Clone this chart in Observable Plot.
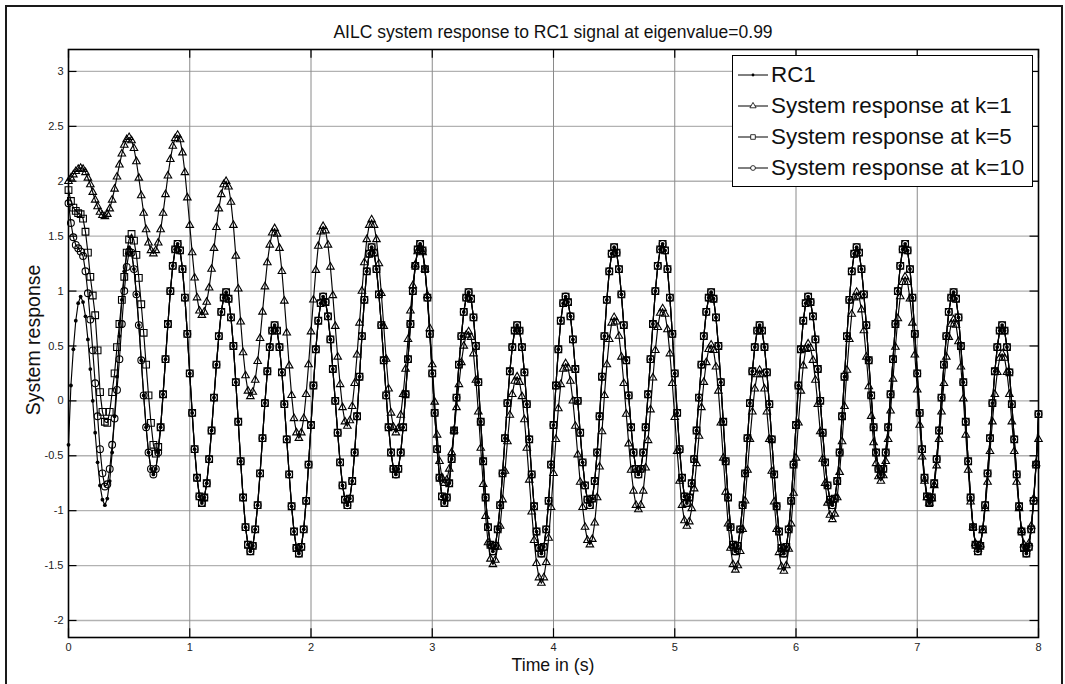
<!DOCTYPE html>
<html><head><meta charset="utf-8">
<script src="https://cdn.jsdelivr.net/npm/d3@7"></script>
<script src="https://cdn.jsdelivr.net/npm/@observablehq/plot@0.6"></script>
<style>
html,body{margin:0;padding:0;background:#fff;}
#fig{position:relative;width:1065px;height:684px;overflow:hidden;background:#fff;font-family:"Liberation Sans",Arial,Helvetica,sans-serif;color:#111;}
#frame{position:absolute;left:5px;top:5px;width:1058px;height:720px;border:2px solid #1a1a1a;box-sizing:border-box;}
#chart{position:absolute;left:0;top:0;}
#title{position:absolute;left:68px;width:970px;top:22px;text-align:center;font-size:17.5px;line-height:20px;white-space:nowrap;}
#xlabel{position:absolute;left:68px;width:970px;top:655px;text-align:center;font-size:17.7px;line-height:20px;}
#ylabel{position:absolute;left:33px;top:340px;transform:translate(-50%,-50%) rotate(-90deg);white-space:nowrap;font-size:19.5px;line-height:22px;}
#legend{position:absolute;left:732px;top:55px;width:301px;height:132px;border:1px solid #000;background:#fff;box-sizing:border-box;}
.row{position:absolute;left:4px;height:30px;display:flex;align-items:center;font-size:22.4px;white-space:nowrap;}
.row svg{margin-right:2px;}
</style>
</head><body>
<div id="fig">
  <div id="chart"></div>
  <div id="frame"></div>
  <div id="title"></div>
  <div id="xlabel"></div>
  <div id="ylabel"></div>
  <div id="legend"></div>
</div>
<script>
// ---- Data ----
const titleText = "AILC system response to RC1 signal at eigenvalue=0.99";
const xLabel = "Time in (s)";
const yLabel = "System response";
const seriesNames = ["RC1", "System response at k=1", "System response at k=5", "System response at k=10"];
const dt = 0.02;              // sampling step (s) of the arrays below
const xTicks = [0,1,2,3,4,5,6,7,8];
const yTicks = [-2,-1.5,-1,-0.5,0,0.5,1,1.5,2,2.5,3];
const xDomain = [0, 8];
const yDomain = [-2.155, 3.2];

// RC1 reference signal, t = 0 .. 8 s
const rc1 = [
-0.40,0.14,0.47,0.73,0.89,0.95,0.90,0.77,0.56,0.29,
0,-0.29,-0.56,-0.77,-0.90,-0.95,-0.89,-0.73,-0.47,-0.14,
0.22,0.59,0.92,1.18,1.34,1.40,1.35,1.20,0.97,0.69,
0.37,0.05,-0.24,-0.47,-0.62,-0.67,-0.62,-0.47,-0.24,0.06,
0.38,0.70,1.00,1.23,1.38,1.43,1.37,1.20,0.94,0.61,
0.25,-0.11,-0.44,-0.70,-0.87,-0.93,-0.88,-0.75,-0.53,-0.27,
0.03,0.33,0.59,0.81,0.94,0.99,0.93,0.76,0.50,0.17,
-0.19,-0.55,-0.88,-1.15,-1.31,-1.37,-1.32,-1.17,-0.95,-0.66,
-0.34,-0.02,0.27,0.49,0.64,0.69,0.64,0.49,0.26,-0.03,
-0.35,-0.67,-0.96,-1.19,-1.34,-1.39,-1.33,-1.17,-0.91,-0.58,
-0.22,0.14,0.47,0.73,0.89,0.95,0.90,0.77,0.56,0.29,
0,-0.29,-0.56,-0.77,-0.90,-0.95,-0.89,-0.73,-0.47,-0.14,
0.22,0.59,0.92,1.18,1.34,1.40,1.35,1.20,0.97,0.69,
0.37,0.05,-0.24,-0.47,-0.62,-0.67,-0.62,-0.47,-0.24,0.06,
0.38,0.70,1.00,1.23,1.38,1.43,1.37,1.20,0.94,0.61,
0.25,-0.11,-0.44,-0.70,-0.87,-0.93,-0.88,-0.75,-0.53,-0.27,
0.03,0.33,0.59,0.81,0.94,0.99,0.93,0.76,0.50,0.17,
-0.19,-0.55,-0.88,-1.15,-1.31,-1.37,-1.32,-1.17,-0.95,-0.66,
-0.34,-0.02,0.27,0.49,0.64,0.69,0.64,0.49,0.26,-0.03,
-0.35,-0.67,-0.96,-1.19,-1.34,-1.39,-1.33,-1.17,-0.91,-0.58,
-0.22,0.14,0.47,0.73,0.89,0.95,0.90,0.77,0.56,0.29,
0,-0.29,-0.56,-0.77,-0.90,-0.95,-0.89,-0.73,-0.47,-0.14,
0.22,0.59,0.92,1.18,1.34,1.40,1.35,1.20,0.97,0.69,
0.37,0.05,-0.24,-0.47,-0.62,-0.67,-0.62,-0.47,-0.24,0.06,
0.38,0.70,1.00,1.23,1.38,1.43,1.37,1.20,0.94,0.61,
0.25,-0.11,-0.44,-0.70,-0.87,-0.93,-0.88,-0.75,-0.53,-0.27,
0.03,0.33,0.59,0.81,0.94,0.99,0.93,0.76,0.50,0.17,
-0.19,-0.55,-0.88,-1.15,-1.31,-1.37,-1.32,-1.17,-0.95,-0.66,
-0.34,-0.02,0.27,0.49,0.64,0.69,0.64,0.49,0.26,-0.03,
-0.35,-0.67,-0.96,-1.19,-1.34,-1.39,-1.33,-1.17,-0.91,-0.58,
-0.22,0.14,0.47,0.73,0.89,0.95,0.90,0.77,0.56,0.29,
0,-0.29,-0.56,-0.77,-0.90,-0.95,-0.89,-0.73,-0.47,-0.14,
0.22,0.59,0.92,1.18,1.34,1.40,1.35,1.20,0.97,0.69,
0.37,0.05,-0.24,-0.47,-0.62,-0.67,-0.62,-0.47,-0.24,0.06,
0.38,0.70,1.00,1.23,1.38,1.43,1.37,1.20,0.94,0.61,
0.25,-0.11,-0.44,-0.70,-0.87,-0.93,-0.88,-0.75,-0.53,-0.27,
0.03,0.33,0.59,0.81,0.94,0.99,0.93,0.76,0.50,0.17,
-0.19,-0.55,-0.88,-1.15,-1.31,-1.37,-1.32,-1.17,-0.95,-0.66,
-0.34,-0.02,0.27,0.49,0.64,0.69,0.64,0.49,0.26,-0.03,
-0.35,-0.67,-0.96,-1.19,-1.34,-1.39,-1.33,-1.17,-0.91,-0.58,
-0.12
];

// System response at k=1, t = 0 .. 8 s
const k1 = [
2.00,2.03,2.06,2.09,2.11,2.12,
2.11,2.08,2.03,1.97,1.90,1.83,1.77,1.72,1.69,1.68,
1.70,1.75,1.83,1.93,2.04,2.15,2.25,2.33,2.38,2.40,
2.37,2.30,2.18,2.03,1.87,1.71,1.56,1.44,1.37,1.34,
1.37,1.44,1.56,1.71,1.88,2.05,2.20,2.32,2.39,2.42,
2.38,2.26,2.08,1.85,1.60,1.35,1.12,0.94,0.82,0.78,
0.81,0.90,1.03,1.20,1.39,1.58,1.75,1.88,1.97,2.00,
1.95,1.81,1.60,1.32,1.02,0.72,0.44,0.23,0.09,0.04,
0.08,0.19,0.36,0.57,0.81,1.04,1.26,1.42,1.53,1.57,
1.52,1.39,1.18,0.91,0.62,0.32,0.05,-0.16,-0.29,-0.34,
-0.29,-0.16,0.06,0.33,0.63,0.92,1.19,1.41,1.54,1.59,
1.55,1.42,1.22,0.96,0.68,0.40,0.15,-0.06,-0.19,-0.23,
-0.18,-0.05,0.16,0.42,0.71,1.00,1.26,1.47,1.60,1.65,
1.60,1.47,1.25,0.98,0.68,0.38,0.11,-0.11,-0.24,-0.29,
-0.25,-0.13,0.06,0.29,0.56,0.82,1.05,1.24,1.36,1.40,
1.35,1.20,0.96,0.66,0.33,-0.01,-0.31,-0.55,-0.70,-0.75,
-0.72,-0.62,-0.47,-0.27,-0.06,0.15,0.35,0.50,0.60,0.63,
0.58,0.43,0.19,-0.10,-0.43,-0.76,-1.05,-1.29,-1.44,-1.49,
-1.45,-1.33,-1.14,-0.90,-0.64,-0.37,-0.13,0.06,0.18,0.22,
0.17,0.04,-0.17,-0.43,-0.72,-1.01,-1.27,-1.48,-1.61,-1.66,
-1.61,-1.47,-1.25,-0.97,-0.66,-0.35,-0.07,0.15,0.29,0.34,
0.30,0.18,0.00,-0.23,-0.49,-0.74,-0.97,-1.15,-1.27,-1.31,
-1.26,-1.11,-0.88,-0.60,-0.28,0.05,0.33,0.56,0.71,0.76,
0.72,0.59,0.40,0.16,-0.12,-0.39,-0.63,-0.82,-0.95,-0.99,
-0.95,-0.82,-0.61,-0.36,-0.08,0.21,0.46,0.67,0.80,0.84,
0.79,0.65,0.43,0.16,-0.15,-0.46,-0.73,-0.95,-1.09,-1.14,
-1.10,-0.98,-0.80,-0.57,-0.32,-0.06,0.17,0.35,0.47,0.51,
0.46,0.31,0.09,-0.20,-0.52,-0.83,-1.12,-1.34,-1.49,-1.54,
-1.50,-1.37,-1.17,-0.91,-0.63,-0.35,-0.10,0.11,0.24,0.28,
0.24,0.11,-0.10,-0.35,-0.64,-0.92,-1.17,-1.38,-1.51,-1.55,
-1.50,-1.35,-1.12,-0.84,-0.52,-0.20,0.09,0.32,0.47,0.52,
0.48,0.37,0.19,-0.03,-0.28,-0.53,-0.75,-0.93,-1.04,-1.08,
-1.03,-0.88,-0.65,-0.37,-0.05,0.28,0.56,0.79,0.94,0.99,
0.95,0.83,0.64,0.40,0.13,-0.14,-0.38,-0.57,-0.69,-0.73,
-0.68,-0.55,-0.35,-0.09,0.20,0.49,0.75,0.95,1.08,1.13,
1.08,0.93,0.71,0.42,0.10,-0.22,-0.51,-0.73,-0.88,-0.93,
-0.89,-0.77,-0.59,-0.35,-0.10,0.16,0.40,0.58,0.70,0.74,
0.69,0.54,0.31,0.02,-0.31,-0.63,-0.92,-1.15,-1.30,-1.35,
-1.31,-1.18,-0.98,-0.74,-0.46,-0.19,0.06,0.26,0.39,0.43,
0.39,0.26,0.06,-0.19,-0.46,-0.74,-0.98,-1.18,-1.31,-1.35,
-1.30,-1.14,-0.89,-0.57,-0.35
];

// System response at k=5: start (t = 0 .. 0.74 s), afterwards it lies on RC1
const k5Start = [
1.92,1.82,1.76,1.73,1.71,1.70,1.66,1.54,1.35,1.13,
0.96,0.78,0.46,0.08,-0.10,-0.19,-0.20,-0.10,0.08,0.25,
0.49,0.70,0.92,1.13,1.35,1.47,1.52,1.46,1.33,1.12,
0.88,0.62,0.33,0.05,-0.20,-0.40,-0.48,-0.42
];
// System response at k=10: start (t = 0 .. 0.50 s), afterwards it lies on RC1
const k10Start = [
1.80,1.62,1.49,1.42,1.39,1.36,1.32,1.18,0.98,0.74,
0.46,0.16,-0.14,-0.44,-0.66,-0.78,-0.76,-0.62,-0.40,-0.16,
0.10,0.38,0.70,1.00,1.22,1.36
];
const k5 = k5Start.concat(rc1.slice(k5Start.length));
const k10 = k10Start.concat(rc1.slice(k10Start.length));

// ---- Series styles ----
const series = [
  {name: seriesNames[0], values: rc1, symbol: "circle", r: 1.9, fill: "#000", stroke: "none"},
  {name: seriesNames[1], values: k1, symbol: "triangle", r: 2.8, fill: "none", stroke: "#000"},
  {name: seriesNames[2], values: k5, symbol: "square", r: 3.8, fill: "none", stroke: "#000"},
  {name: seriesNames[3], values: k10, symbol: "circle", r: 3.4, fill: "none", stroke: "#000"}
];

const xOf = (d, i) => i * dt;
const tickLenY = 0.08, tickLenX = 0.07;

const marks = [
  Plot.ruleY(yTicks, {stroke: "#b2b2b2", strokeWidth: 1.3}),
  Plot.ruleX(xTicks.slice(1, -1), {stroke: "#8a8a8a", strokeWidth: 1}),
  Plot.ruleX(xTicks, {y1: yDomain[0], y2: yDomain[0] + tickLenY, stroke: "#000", strokeWidth: 1.2}),
  Plot.ruleX(xTicks, {y1: yDomain[1] - tickLenY, y2: yDomain[1], stroke: "#000", strokeWidth: 1.2}),
  Plot.ruleY(yTicks, {x1: xDomain[0], x2: xDomain[0] + tickLenX, stroke: "#000", strokeWidth: 1.2}),
  Plot.ruleY(yTicks, {x1: xDomain[1] - tickLenX, x2: xDomain[1], stroke: "#000", strokeWidth: 1.2})
];
for (const s of series) {
  marks.push(Plot.line(s.values, {x: xOf, y: d => d, stroke: "#000", strokeWidth: 1.15}));
  marks.push(Plot.dot(s.values, {x: xOf, y: d => d, symbol: s.symbol, r: s.r, fill: s.fill, stroke: s.stroke, strokeWidth: 1.1}));
}
marks.push(Plot.frame({stroke: "#000", strokeWidth: 1.6}));

const chart = Plot.plot({
  width: 1065, height: 684,
  marginLeft: 68, marginRight: 27, marginTop: 49, marginBottom: 47,
  style: {fontFamily: '"Liberation Sans", Arial, sans-serif', fontSize: "11px", color: "#222", background: "transparent", overflow: "visible"},
  x: {domain: xDomain, ticks: xTicks, tickSize: 0, tickPadding: 6, tickFormat: d => String(d), label: null},
  y: {domain: yDomain, ticks: yTicks, tickSize: 0, tickPadding: 5, tickFormat: d => String(d), label: null},
  marks
});
document.getElementById("chart").appendChild(chart);

document.getElementById("title").textContent = titleText;
document.getElementById("xlabel").textContent = xLabel;
document.getElementById("ylabel").textContent = yLabel;

// ---- Legend ----
const legend = document.getElementById("legend");
const rowTops = [4, 35, 66, 97];
const legendSymbolR = [1.4, 2.3, 2.6, 2.4];
series.forEach((s, j) => {
  const row = document.createElement("div");
  row.className = "row";
  row.style.top = rowTops[j] + "px";
  const svg = d3.create("svg").attr("width", 32).attr("height", 30);
  svg.append("line").attr("x1", 1).attr("x2", 31).attr("y1", 15).attr("y2", 15).attr("stroke", "#000").attr("stroke-width", 1);
  const symType = s.symbol === "triangle" ? d3.symbolTriangle : s.symbol === "square" ? d3.symbolSquare : d3.symbolCircle;
  const rr = legendSymbolR[j];
  svg.append("path").attr("transform", "translate(16,15)")
     .attr("d", d3.symbol(symType, Math.PI * rr * rr)())
     .attr("fill", s.fill === "none" ? "#fff" : s.fill)
     .attr("stroke", s.stroke === "none" ? "none" : "#000").attr("stroke-width", 0.8);
  row.appendChild(svg.node());
  const span = document.createElement("span");
  span.textContent = s.name;
  row.appendChild(span);
  legend.appendChild(row);
});
</script>
</body></html>
